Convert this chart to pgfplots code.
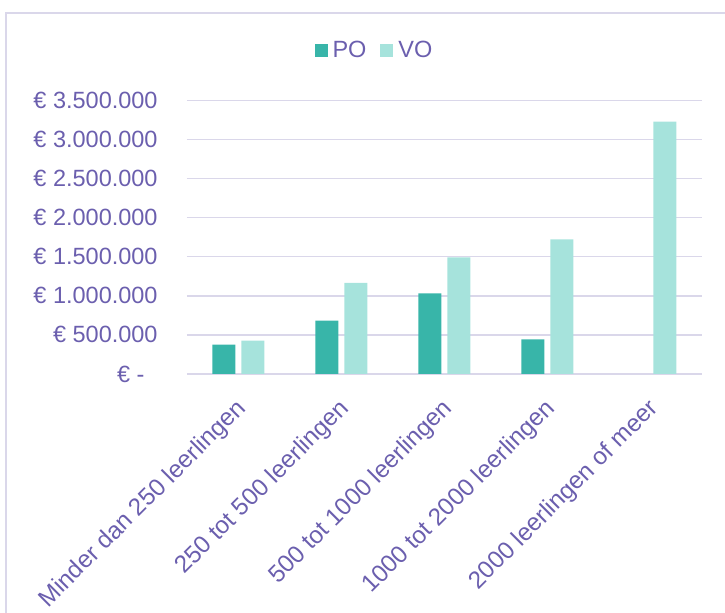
\documentclass[border=0pt]{standalone}
\usepackage{pgfplots}
\pgfplotsset{compat=1.18}
\usepackage{fontspec}
\setmainfont{Liberation Sans}

\definecolor{po}{HTML}{38B5A9}
\definecolor{vo}{HTML}{A6E3DC}
\definecolor{txt}{HTML}{6B5FAE}
\definecolor{gridc}{HTML}{DAD7EA}

\newcommand{\chartfont}{\fontsize{11.75}{14}\selectfont}

\begin{document}
\begin{tikzpicture}
  % page = the 725x613 px image, 1 px = 0.5 pt, axis box at (0,0)
  \useasboundingbox (-93.5pt,-119.5pt) rectangle (269pt,187pt);
  % chart frame (runs past the right and bottom edges)
  \draw[gridc, line width=1pt] (-90.5pt,-140pt) -- (-90.5pt,180.5pt) -- (290pt,180.5pt);

  \begin{axis}[
    at={(0pt,0pt)}, anchor=south west,
    scale only axis,
    width=257.5pt, height=136.8pt,
    ybar=3pt,
    bar width=11.5pt,
    xmin=-0.5, xmax=4.5,
    ymin=0, ymax=3500000,
    enlargelimits=false,
    xtick={0,1,2,3,4},
    xticklabels={Minder dan 250 leerlingen, 250 tot 500 leerlingen,
      500 tot 1000 leerlingen, 1000 tot 2000 leerlingen,
      2000 leerlingen of meer},
    ytick={0,500000,1000000,1500000,2000000,2500000,3000000,3500000},
    yticklabels={€ -\hphantom{0}, € 500.000, € 1.000.000, € 1.500.000,
      € 2.000.000, € 2.500.000, € 3.000.000, € 3.500.000},
    scaled y ticks=false,
    axis line style={draw=none},
    major tick style={draw=none},
    ymajorgrids,
    major grid style={gridc, line width=0.75pt},
    tick label style={font=\chartfont, text=txt},
    y tick label style={anchor=east, inner sep=0pt, xshift=-14.5pt},
    x tick label style={font=\fontsize{12.15}{14}\selectfont,
      xshift=-2pt, yshift=-7pt, rotate=45, anchor=north east, inner sep=0pt},
    legend style={
      draw=none, fill=none,
      at={(axis description cs:0.364,1.182)}, anchor=center,
      legend columns=-1,
      font=\chartfont, text=txt,
      /tikz/every odd column/.append style={column sep=1.5pt},
      /tikz/every even column/.append style={column sep=6pt},
      nodes={inner sep=1pt},
    },
    legend image code/.code={\fill[#1] (0pt,-3.25pt) rectangle (6.5pt,3.25pt);},
  ]

  % PO (no value for the largest schools)
  \addplot[draw=none, fill=po] coordinates {
    (0,375000) (1,682000) (2,1031000) (3,443000)};

  % VO
  \addplot[draw=none, fill=vo] coordinates {
    (0,426000) (1,1164000) (2,1491000) (3,1722000) (4,3227000)};

  \legend{PO,VO}
  \end{axis}
\end{tikzpicture}
\end{document}
